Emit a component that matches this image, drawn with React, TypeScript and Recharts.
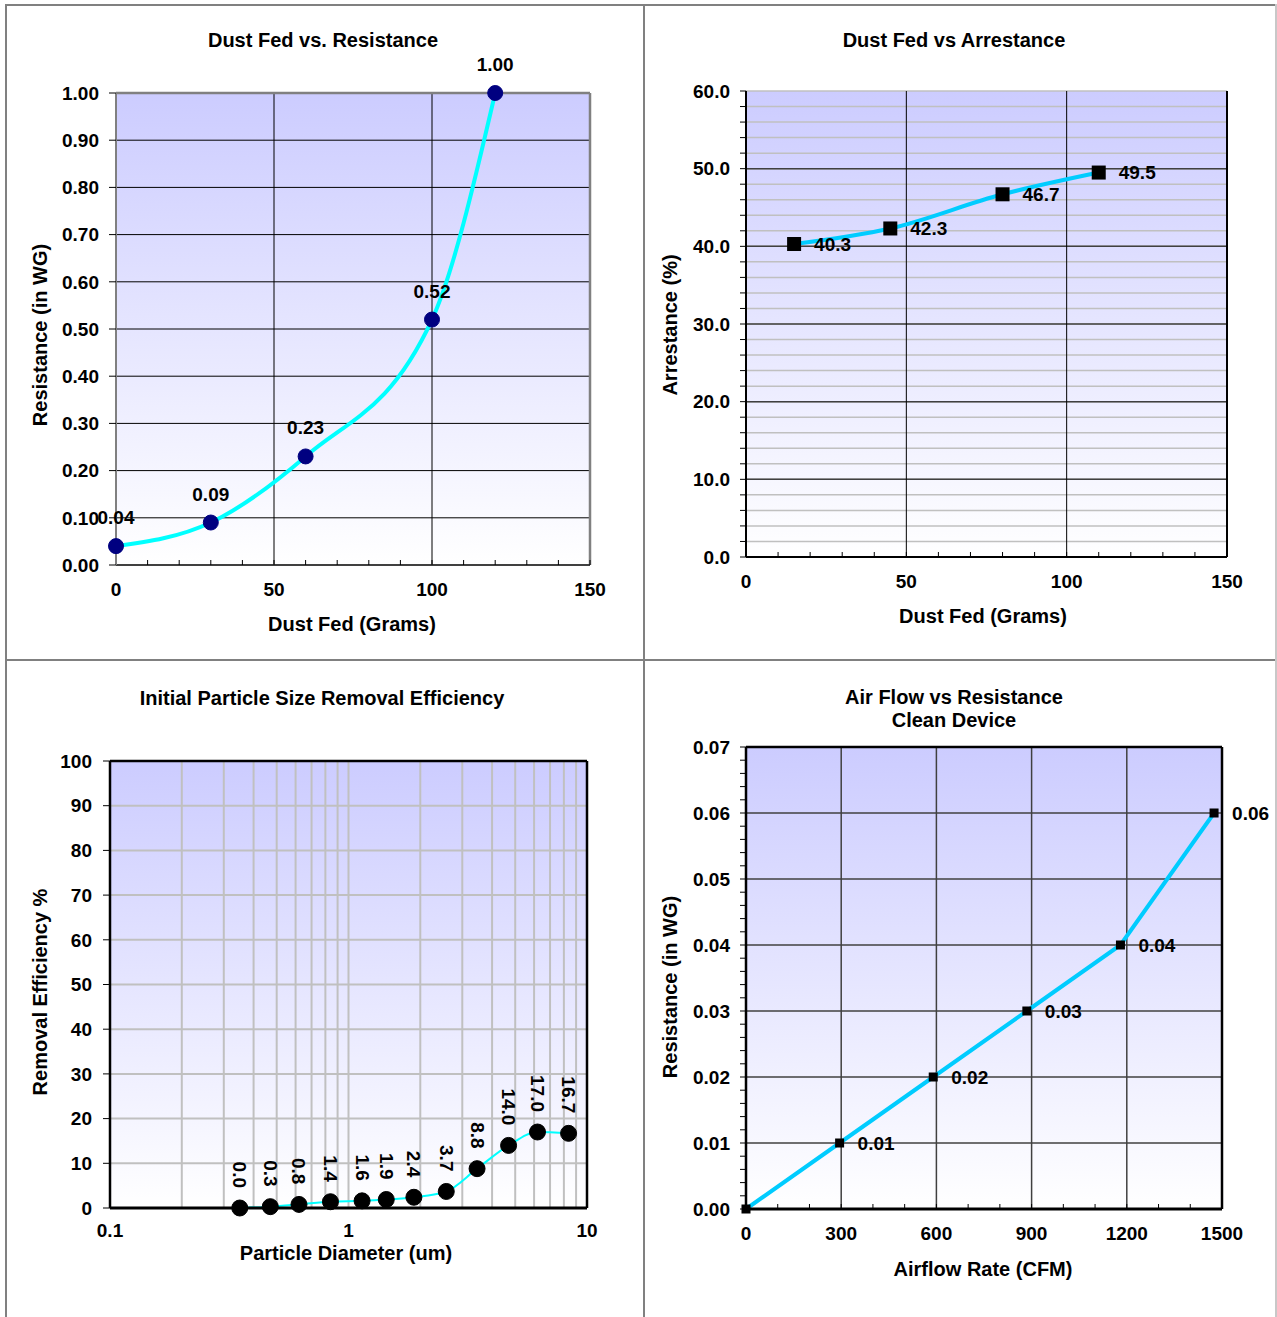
import React from 'react';
import {
  LineChart,
  Line,
  XAxis,
  YAxis,
  CartesianGrid,
  ReferenceLine,
  LabelList,
} from 'recharts';

const FONT = '"Liberation Sans", Arial, sans-serif';

// Dust fed vs resistance
const dustFed = [0, 30, 60, 100, 120];
const resistance = [0.04, 0.09, 0.23, 0.52, 1.0];
const resYTicks = [0, 0.1, 0.2, 0.3, 0.4, 0.5, 0.6, 0.7, 0.8, 0.9, 1.0];

// Dust fed vs arrestance
const arrestFed = [15, 45, 80, 110];
const arrestance = [40.3, 42.3, 46.7, 49.5];
const arrestMajor = [10, 20, 30, 40, 50];

// Particle size removal efficiency
const particleSize = [0.35, 0.47, 0.62, 0.84, 1.14, 1.44, 1.88, 2.57, 3.46, 4.69, 6.2, 8.37];
const removalEff = [0.0, 0.3, 0.8, 1.4, 1.6, 1.9, 2.4, 3.7, 8.8, 14.0, 17.0, 16.7];
const logTicks = [0.1, 0.2, 0.3, 0.4, 0.5, 0.6, 0.7, 0.8, 0.9, 1, 2, 3, 4, 5, 6, 7, 8, 9, 10];
const logLabels = [0.1, 1, 10];
const effTicks = [0, 10, 20, 30, 40, 50, 60, 70, 80, 90, 100];

// Air flow vs resistance (clean)
const airflow = [0, 295, 590, 885, 1180, 1475];
const cleanRes = [0, 0.01, 0.02, 0.03, 0.04, 0.06];
const airMajorX = [300, 600, 900, 1200];
const airMajorY = [0.01, 0.02, 0.03, 0.04, 0.05, 0.06];

const range = (from: number, to: number, step: number, dec: number) => {
  const out: number[] = [];
  for (let v = from; v <= to + step / 2; v += step) out.push(Number(v.toFixed(dec)));
  return out;
};

const tickStyle = { fill: '#000', fontSize: 19, fontWeight: 700, fontFamily: FONT };
const labelStyle = { fill: '#000', fontSize: 19, fontWeight: 700, fontFamily: FONT };

const Caption = ({ x, y, vertical, children }: any) => (
  <div
    style={{
      position: 'absolute',
      left: x,
      top: y,
      transform: `translate(-50%, -50%)${vertical ? ' rotate(-90deg)' : ''}`,
      whiteSpace: 'nowrap',
      fontFamily: FONT,
      fontWeight: 700,
      fontSize: 20,
      lineHeight: '23px',
      textAlign: 'center',
      color: '#000',
    }}
  >
    {children}
  </div>
);

const square = (size: number) => (p: any) => (
  <rect key={`sq-${p.index}`} x={p.cx - size / 2} y={p.cy - size / 2} width={size} height={size} fill="#000" />
);

const RotatedLabel = (p: any) => {
  const { x, y, value } = p;
  const ty = y - 20;
  return (
    <text
      x={x}
      y={ty}
      transform={`rotate(90, ${x}, ${ty})`}
      textAnchor="end"
      dominantBaseline="central"
      style={labelStyle}
    >
      {Number(value).toFixed(1)}
    </text>
  );
};

const Box = ({ left, top, children }: any) => (
  <div style={{ position: 'absolute', left, top }}>{children}</div>
);

const line = (style: any) => <div style={{ position: 'absolute', background: '#808080', ...style }} />;

export default function App() {
  const resData = dustFed.map((x, i) => ({ x, y: resistance[i] }));
  const arrData = arrestFed.map((x, i) => ({ x, y: arrestance[i] }));
  const effData = particleSize.map((x, i) => ({ x, y: removalEff[i] }));
  const airData = airflow.map((x, i) => ({ x, y: cleanRes[i] }));

  return (
    <div style={{ position: 'absolute', left: 0, top: 0, width: 1277, height: 1317, background: '#fff', overflow: 'hidden' }}>
      <svg width="0" height="0" style={{ position: 'absolute' }}>
        <defs>
          <linearGradient id="plotBg" x1="0" y1="0" x2="0" y2="1">
            <stop offset="0%" stopColor="#ccccff" />
            <stop offset="100%" stopColor="#ffffff" />
          </linearGradient>
        </defs>
      </svg>

      {line({ left: 5, top: 4, width: 1272, height: 2 })}
      {line({ left: 5, top: 4, width: 2, height: 1313 })}
      {line({ left: 643, top: 4, width: 2, height: 1313 })}
      {line({ left: 5, top: 659, width: 1272, height: 2 })}
      {line({ left: 1275, top: 4, width: 2, height: 1313, background: '#c8c8c8' })}

      {/* Chart 1 */}
      <Box left={5} top={4}>
        <LineChart width={639} height={656} data={resData} margin={{ top: 89, right: 54, bottom: 65, left: 51 }}>
          <CartesianGrid vertical={false} stroke="#000" strokeWidth={1} fill="url(#plotBg)" fillOpacity={1} />
          <XAxis
            dataKey="x"
            type="number"
            domain={[0, 150]}
            ticks={range(0, 150, 10, 0)}
            interval={0}
            height={30}
            tickSize={-5}
            tickMargin={23}
            tickFormatter={(v: number) => (v % 50 === 0 ? String(v) : '')}
            tick={tickStyle}
            axisLine={{ stroke: '#404040', strokeWidth: 2 }}
            tickLine={{ stroke: '#000' }}
          />
          <YAxis
            type="number"
            domain={[0, 1]}
            ticks={resYTicks}
            interval={0}
            width={60}
            tickSize={7}
            tickMargin={10}
            tickFormatter={(v: number) => v.toFixed(2)}
            tick={tickStyle}
            axisLine={{ stroke: '#808080', strokeWidth: 2 }}
            tickLine={{ stroke: '#000' }}
          />
          <ReferenceLine x={50} stroke="#000" strokeWidth={1} />
          <ReferenceLine x={100} stroke="#000" strokeWidth={1} />
          <ReferenceLine x={150} stroke="#808080" strokeWidth={2.5} />
          <ReferenceLine y={1} stroke="#808080" strokeWidth={2.5} />
          <Line
            dataKey="y"
            type="monotone"
            stroke="#00ffff"
            strokeWidth={4}
            isAnimationActive={false}
            dot={{ r: 7.5, fill: '#000080', stroke: '#000080', strokeWidth: 1 }}
            activeDot={false}
          >
            <LabelList dataKey="y" position="top" offset={22} formatter={(v: number) => v.toFixed(2)} {...labelStyle} />
          </Line>
        </LineChart>
      </Box>
      <Caption x={323} y={40}>Dust Fed vs. Resistance</Caption>
      <Caption x={352} y={624}>Dust Fed (Grams)</Caption>
      <Caption x={40} y={335} vertical>Resistance (in WG)</Caption>

      {/* Chart 2 */}
      <Box left={644} top={4}>
        <LineChart width={632} height={656} data={arrData} margin={{ top: 87, right: 49, bottom: 73, left: 42 }}>
          <CartesianGrid vertical={false} stroke="#c0c0c0" strokeWidth={1.5} fill="url(#plotBg)" fillOpacity={1} />
          <XAxis
            dataKey="x"
            type="number"
            domain={[0, 150]}
            ticks={range(0, 150, 10, 0)}
            interval={0}
            height={30}
            tickSize={-5}
            tickMargin={23}
            tickFormatter={(v: number) => (v % 50 === 0 ? String(v) : '')}
            tick={tickStyle}
            axisLine={{ stroke: '#000', strokeWidth: 2 }}
            tickLine={{ stroke: '#000' }}
          />
          <YAxis
            type="number"
            domain={[0, 60]}
            ticks={range(0, 60, 2, 0)}
            interval={0}
            width={60}
            tickSize={6}
            tickMargin={10}
            tickFormatter={(v: number) => (v % 10 === 0 ? v.toFixed(1) : '')}
            tick={tickStyle}
            axisLine={{ stroke: '#000', strokeWidth: 2 }}
            tickLine={{ stroke: '#000' }}
          />
          {arrestMajor.map((v) => (
            <ReferenceLine key={`ay${v}`} y={v} stroke="#404040" strokeWidth={1.5} />
          ))}
          <ReferenceLine x={50} stroke="#000" strokeWidth={1} />
          <ReferenceLine x={100} stroke="#000" strokeWidth={1} />
          <ReferenceLine x={150} stroke="#000" strokeWidth={2} />
          <Line
            dataKey="y"
            type="monotone"
            stroke="#00ccff"
            strokeWidth={4}
            isAnimationActive={false}
            dot={square(14)}
            activeDot={false}
          >
            <LabelList dataKey="y" position="right" offset={20} formatter={(v: number) => v.toFixed(1)} {...labelStyle} />
          </Line>
        </LineChart>
      </Box>
      <Caption x={954} y={40}>Dust Fed vs Arrestance</Caption>
      <Caption x={983} y={616}>Dust Fed (Grams)</Caption>
      <Caption x={670} y={325} vertical>Arrestance (%)</Caption>

      {/* Chart 3 */}
      <Box left={5} top={660}>
        <LineChart width={639} height={657} data={effData} margin={{ top: 101, right: 57, bottom: 79, left: 45 }}>
          <CartesianGrid stroke="#c0c0c0" strokeWidth={2} fill="url(#plotBg)" fillOpacity={1} />
          <XAxis
            dataKey="x"
            type="number"
            scale="log"
            domain={[0.1, 10]}
            allowDataOverflow
            ticks={logTicks}
            interval={0}
            height={30}
            tickSize={0}
            tickMargin={16}
            tickFormatter={(v: number) => (logLabels.includes(v) ? String(v) : '')}
            tick={tickStyle}
            axisLine={{ stroke: '#000', strokeWidth: 3 }}
            tickLine={false}
          />
          <YAxis
            type="number"
            domain={[0, 100]}
            ticks={effTicks}
            interval={0}
            width={60}
            tickSize={7}
            tickMargin={11}
            tick={tickStyle}
            axisLine={{ stroke: '#000', strokeWidth: 2.5 }}
            tickLine={{ stroke: '#000' }}
          />
          <ReferenceLine x={10} stroke="#000" strokeWidth={2.5} />
          <ReferenceLine y={100} stroke="#000" strokeWidth={2.5} />
          <Line
            dataKey="y"
            type="monotone"
            stroke="#00ffff"
            strokeWidth={2}
            isAnimationActive={false}
            dot={{ r: 8, fill: '#000', stroke: '#000', strokeWidth: 1 }}
            activeDot={false}
          >
            <LabelList dataKey="y" content={RotatedLabel} />
          </Line>
        </LineChart>
      </Box>
      <Caption x={322} y={698}>Initial Particle Size Removal Efficiency</Caption>
      <Caption x={346} y={1253}>Particle Diameter (um)</Caption>
      <Caption x={40} y={992} vertical>Removal Efficiency %</Caption>

      {/* Chart 4 */}
      <Box left={644} top={660}>
        <LineChart width={632} height={657} data={airData} margin={{ top: 87, right: 54, bottom: 78, left: 42 }}>
          <CartesianGrid horizontal={false} vertical={false} fill="url(#plotBg)" fillOpacity={1} />
          <XAxis
            dataKey="x"
            type="number"
            domain={[0, 1500]}
            ticks={range(0, 1500, 100, 0)}
            interval={0}
            height={30}
            tickSize={-5}
            tickMargin={23}
            tickFormatter={(v: number) => (v % 300 === 0 ? String(v) : '')}
            tick={tickStyle}
            axisLine={{ stroke: '#000', strokeWidth: 3 }}
            tickLine={{ stroke: '#000' }}
          />
          <YAxis
            type="number"
            domain={[0, 0.07]}
            ticks={range(0, 0.07, 0.002, 3)}
            interval={0}
            width={60}
            tickSize={6}
            tickMargin={10}
            tickFormatter={(v: number) => (Math.round(v * 1000) % 10 === 0 ? v.toFixed(2) : '')}
            tick={tickStyle}
            axisLine={{ stroke: '#000', strokeWidth: 2.5 }}
            tickLine={{ stroke: '#000' }}
          />
          {airMajorY.map((v) => (
            <ReferenceLine key={`ry${v}`} y={v} stroke="#404040" strokeWidth={1.5} />
          ))}
          {airMajorX.map((v) => (
            <ReferenceLine key={`rx${v}`} x={v} stroke="#404040" strokeWidth={1.5} />
          ))}
          <ReferenceLine x={1500} stroke="#000" strokeWidth={2.5} />
          <ReferenceLine y={0.07} stroke="#000" strokeWidth={2.5} />
          <Line
            dataKey="y"
            type="linear"
            stroke="#00ccff"
            strokeWidth={4}
            isAnimationActive={false}
            dot={square(9)}
            activeDot={false}
          >
            <LabelList
              dataKey="y"
              position="right"
              offset={18}
              formatter={(v: number) => (v === 0 ? '' : v.toFixed(2))}
              {...labelStyle}
            />
          </Line>
        </LineChart>
      </Box>
      <Caption x={954} y={709}>
        Air Flow vs Resistance
        <br />
        Clean Device
      </Caption>
      <Caption x={983} y={1269}>Airflow Rate (CFM)</Caption>
      <Caption x={670} y={987} vertical>Resistance (in WG)</Caption>
    </div>
  );
}
